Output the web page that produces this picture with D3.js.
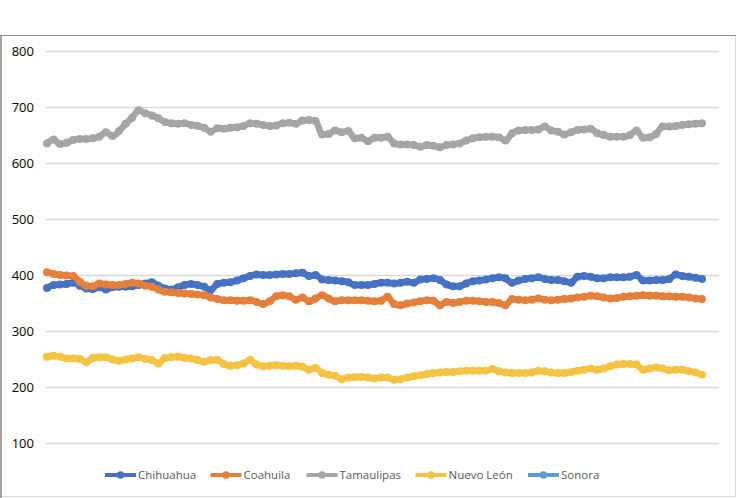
<!DOCTYPE html>
<html>
<head>
<meta charset="utf-8">
<script src="https://cdn.jsdelivr.net/npm/d3@7"></script>
<style>
  html, body { margin: 0; padding: 0; background: #ffffff; }
  svg { display: block; }
</style>
</head>
<body>
<svg id="chart" width="737" height="498"></svg>
<script>
// ---------- DATA ----------
const seriesNames = ["Chihuahua", "Coahuila", "Tamaulipas", "Nuevo León", "Sonora"];
const yTicks = [100, 200, 300, 400, 500, 600, 700, 800];

const chihuahua = [377,382,383,384,386,381,376,375,378,374,378,379,379,380,382,385,387,381,376,374,
  378,382,384,382,379,373,384,386,387,390,394,398,401,400,400,401,402,402,403,404,
  398,400,392,391,390,389,387,382,382,382,384,386,386,385,386,388,386,392,393,394,
  391,383,380,380,385,389,390,392,394,396,394,386,390,393,394,396,393,391,391,389,
  386,397,398,397,394,394,396,396,396,397,400,390,390,391,391,393,401,398,397,395,393];

const coahuila = [405,402,400,399,398,388,381,380,385,383,382,382,384,386,385,381,379,374,370,369,
  368,367,366,365,364,360,357,355,355,354,354,355,352,348,353,362,364,362,356,360,
  353,358,364,358,353,355,355,355,355,354,353,354,361,348,346,349,351,353,355,354,
  346,352,350,352,354,354,353,352,352,350,346,357,356,355,356,358,356,355,356,357,
  358,360,361,363,362,360,358,359,361,362,363,364,363,363,362,362,361,361,360,358,357];

const tamaulipas = [635,642,634,636,641,643,643,644,647,655,648,657,670,681,694,689,685,680,673,671,
  670,671,668,666,663,656,662,661,663,664,666,671,670,668,666,667,671,672,670,676,
  677,675,651,652,658,655,657,644,645,639,645,645,647,635,633,633,632,629,632,631,
  628,632,633,635,640,644,646,647,647,646,640,653,658,659,659,660,665,658,656,651,
  655,659,660,661,653,650,647,647,647,650,658,645,646,652,665,665,666,668,669,670,671];

const nuevoLeon = [254,256,254,251,251,250,244,252,253,253,249,247,249,251,253,250,248,242,252,253,
  254,252,251,248,245,248,248,241,238,239,242,248,240,237,238,239,238,237,238,236,
  231,234,225,222,220,214,217,218,218,217,215,217,217,213,214,217,219,221,223,225,
  226,227,227,228,229,229,229,229,232,228,226,225,225,225,226,229,228,226,225,225,
  227,229,231,233,231,233,237,240,241,241,240,231,233,235,233,230,231,231,228,226,222];

const sonora = [];

const categories = d3.range(chihuahua.length);
const seriesValues = [chihuahua, coahuila, tamaulipas, nuevoLeon, sonora];
const colors = ["#4672C4", "#E47F3C", "#A5A5A5", "#F6C242", "#5B9BD5"];

// ---------- DRAW ----------
const svg = d3.select("#chart");

// chart frame
svg.append("rect")
  .attr("x", 0.5).attr("y", 35.5)
  .attr("width", 735).attr("height", 461)
  .attr("fill", "#ffffff").attr("stroke", "#d9d9d9").attr("stroke-width", 1);
svg.append("line").attr("x1", 0).attr("x2", 736).attr("y1", 35.5).attr("y2", 35.5)
  .attr("stroke", "#8c8c8c").attr("stroke-width", 1);
svg.append("line").attr("x1", 1).attr("x2", 1).attr("y1", 35).attr("y2", 498)
  .attr("stroke", "#8c8c8c").attr("stroke-width", 1.5);

const plotLeft = 46, plotRight = 719;
const x = d3.scaleLinear().domain([0, categories.length - 1]).range([47, 702]);
const y = d3.scaleLinear().domain([100, 800]).range([443, 51]);

// gridlines via axis
const gridAxis = d3.axisLeft(y).tickValues(yTicks).tickSize(-(plotRight - plotLeft)).tickFormat("");
const grid = svg.append("g").attr("transform", `translate(${plotLeft},0)`).call(gridAxis);
grid.select(".domain").remove();
grid.selectAll(".tick line").attr("stroke", "#d9d9d9").attr("stroke-width", 1.3);

// y labels
const labelAxis = d3.axisLeft(y).tickValues(yTicks).tickSize(0).tickPadding(0);
const lab = svg.append("g").attr("transform", `translate(34,0)`).call(labelAxis);
lab.select(".domain").remove();
lab.selectAll(".tick text")
  .attr("font-family", "'Open Sans', 'Noto Sans', sans-serif")
  .attr("font-size", "13px").attr("fill", "#000000");

// series
const line = d3.line()
  .defined(d => d != null)
  .curve(d3.curveMonotoneX)
  .x((d, i) => x(categories[i]))
  .y(d => y(d));

seriesValues.forEach((vals, si) => {
  if (!vals.length) return;
  const g = svg.append("g");
  g.append("path").datum(vals)
    .attr("fill", "none").attr("stroke", colors[si])
    .attr("stroke-width", 6.5).attr("stroke-linejoin", "round").attr("stroke-linecap", "round")
    .attr("d", line);
  g.selectAll("circle").data(vals).join("circle")
    .attr("cx", (d, i) => x(categories[i]))
    .attr("cy", d => y(d))
    .attr("r", 4)
    .attr("fill", colors[si]);
});

// legend
const legendStarts = [105, 210.5, 306.5, 415.5, 528];
const ly = 475;
const legend = svg.append("g");
seriesNames.forEach((name, si) => {
  const lx = legendStarts[si];
  const item = legend.append("g");
  item.append("line").attr("x1", lx).attr("x2", lx + 31).attr("y1", ly).attr("y2", ly)
    .attr("stroke", colors[si]).attr("stroke-width", 4);
  item.append("circle").attr("cx", lx + 15.5).attr("cy", ly).attr("r", 3.8).attr("fill", colors[si]);
  item.append("text").attr("x", lx + 33).attr("y", ly + 4.3)
    .attr("font-family", "'Open Sans', 'Noto Sans', sans-serif")
    .attr("font-size", "11.5px").attr("fill", "#595959")
    .attr("textLength", null)
    .text(name);
});
</script>
</body>
</html>
